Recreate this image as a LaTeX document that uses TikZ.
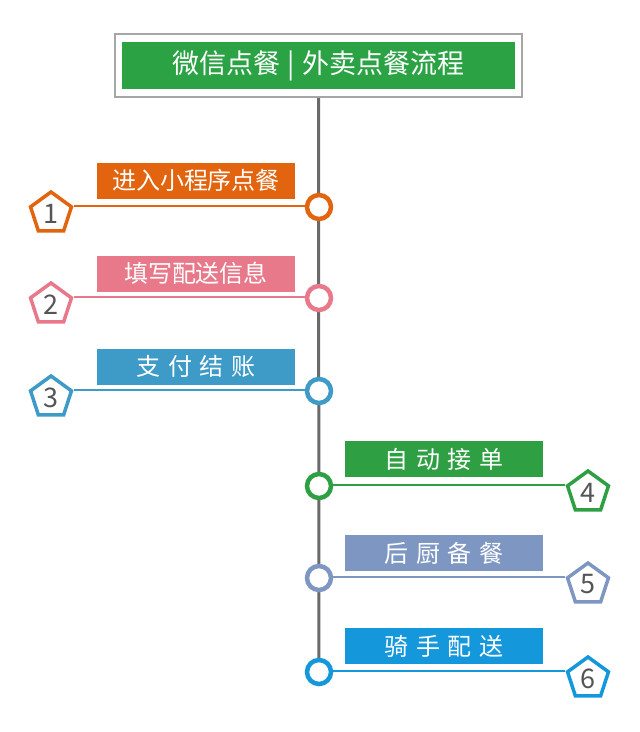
\documentclass[tikz,border=0pt]{standalone}
\usepackage{fontspec}
\setmainfont{Noto Sans CJK SC}
\usetikzlibrary{shapes.geometric,backgrounds}
\definecolor{tgreen}{HTML}{2BA345}
\definecolor{corange}{HTML}{E2640F}
\definecolor{cpink}{HTML}{E8798B}
\definecolor{cblue}{HTML}{3E9BC7}
\definecolor{cgreen}{HTML}{2EA043}
\definecolor{cslate}{HTML}{7E97C2}
\definecolor{csky}{HTML}{1597DC}
\definecolor{numgray}{HTML}{555555}
\definecolor{axisgray}{HTML}{6A6A6A}
\newcommand{\spc}{\hspace{7.5pt}}
\tikzset{
 stepcircle/.style={circle,draw=#1,fill=white,line width=4.5pt,minimum size=24pt,inner sep=0pt},
 stepbox/.style={fill=#1,text=white,minimum width=198pt,minimum height=36pt,inner sep=0pt,font=\fontsize{24}{24}\selectfont},
 pent/.style={regular polygon,regular polygon sides=5,draw=#1,fill=white,line width=3.5pt,minimum size=43pt,inner sep=0pt,text=numgray,font=\fontsize{27}{27}\selectfont},
 link/.style={draw=#1,line width=1.5pt},
 titleouter/.style={draw=gray!70,line width=1.3pt,fill=white,minimum width=407pt,minimum height=63pt,inner sep=0pt},
 titlebox/.style={fill=tgreen,text=white,minimum width=393pt,minimum height=47pt,inner sep=0pt,font=\fontsize{27}{27}\selectfont},
}
\begin{document}
\begin{tikzpicture}[x=1pt,y=-1pt]
\useasboundingbox (0,0) rectangle (640,732);
% title
\node[titleouter] (titleout) at (318.5,65.5) {};
\node[titlebox] (title) at (318.5,65.5) {微信点餐\hspace{7pt}|\hspace{7pt}外卖点餐流程};
% circles
\node[stepcircle=corange] (c1) at (319,207) {};
\node[stepcircle=cpink]   (c2) at (319,298) {};
\node[stepcircle=cblue]   (c3) at (319,391) {};
\node[stepcircle=cgreen]  (c4) at (319,486) {};
\node[stepcircle=cslate]  (c5) at (319,578) {};
\node[stepcircle=csky]    (c6) at (319,672) {};
% label boxes
\node[stepbox=corange] (b1) at (196,180.5) {进入小程序点餐};
\node[stepbox=cpink]   (b2) at (196,273.5) {填写配送信息};
\node[stepbox=cblue]   (b3) at (196,366.5) {支\spc 付\spc 结\spc 账};
\node[stepbox=cgreen]  (b4) at (444,459) {自\spc 动\spc 接\spc 单};
\node[stepbox=cslate]  (b5) at (444,553) {后\spc 厨\spc 备\spc 餐};
\node[stepbox=csky]    (b6) at (444,646) {骑\spc 手\spc 配\spc 送};
% pentagons
\node[pent=corange] (p1) at (51,213.5) {1};
\node[pent=cpink]   (p2) at (51,304.5) {2};
\node[pent=cblue]   (p3) at (51,397.5) {3};
\node[pent=cgreen]  (p4) at (588,492.5) {4};
\node[pent=cslate]  (p5) at (588,584.5) {5};
\node[pent=csky]    (p6) at (588,678.5) {6};
\begin{scope}[on background layer]
\fill[white] (0,0) rectangle (640,732);
\draw[axisgray,line width=3pt] (titleout.south) -- (c6.center);
\draw[link=corange] (p1.corner 5) -- (p1.corner 5 -| c1.center);
\draw[link=cpink]   (p2.corner 5) -- (p2.corner 5 -| c2.center);
\draw[link=cblue]   (p3.corner 5) -- (p3.corner 5 -| c3.center);
\draw[link=cgreen]  (p4.corner 2) -- (p4.corner 2 -| c4.center);
\draw[link=cslate]  (p5.corner 2) -- (p5.corner 2 -| c5.center);
\draw[link=csky]    (p6.corner 2) -- (p6.corner 2 -| c6.center);
\end{scope}
\end{tikzpicture}
\end{document}
